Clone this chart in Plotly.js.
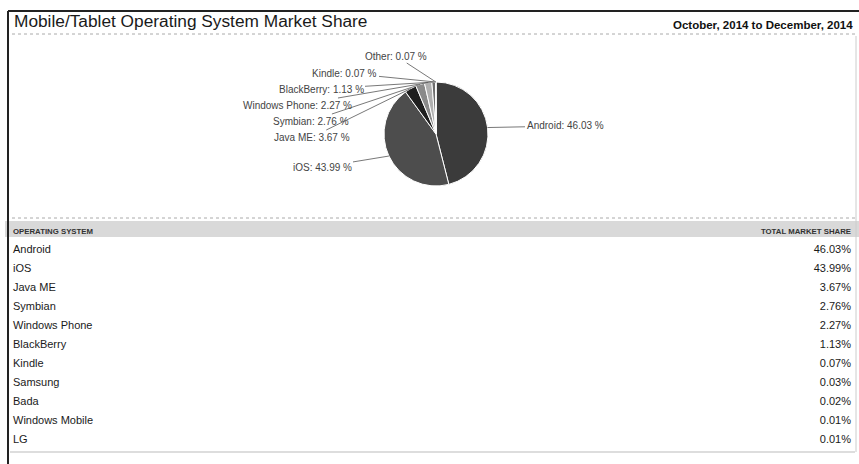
<!DOCTYPE html>
<html>
<head>
<meta charset="utf-8">
<script src="https://cdn.plot.ly/plotly-3.0.1.min.js"></script>
<style>html,body{margin:0;padding:0;background:#fff;}#chart{width:859px;height:464px;}</style>
</head>
<body>
<div id="chart"></div>
<script>
// ---- data ----
const pieLabels = ['Android', 'iOS', 'Java ME', 'Symbian', 'Windows Phone', 'BlackBerry', 'Kindle', 'Other'];
const pieValues = [46.03, 43.99, 3.67, 2.76, 2.27, 1.13, 0.07, 0.07];
const tableOS = ['Android', 'iOS', 'Java ME', 'Symbian', 'Windows Phone', 'BlackBerry', 'Kindle', 'Samsung', 'Bada', 'Windows Mobile', 'LG'];
const tableShare = [46.03, 43.99, 3.67, 2.76, 2.27, 1.13, 0.07, 0.03, 0.02, 0.01, 0.01];
const headerLabels = ['OPERATING SYSTEM', 'TOTAL MARKET SHARE'];
const chartTitle = 'Mobile/Tablet Operating System Market Share';
const dateRange = 'October, 2014 to December, 2014';

// ---- layout / style ----
const W = 859, H = 464;
const FONT = 'Liberation Sans, Arial, sans-serif';
const pieColors = ['#3b3b3b', '#4d4d4d', '#1f1f1f', '#8a8a8a', '#b0b0b0', '#6e6e6e', '#c4c4c4', '#9a9a9a'];
const pieCx = 436, pieCy = 134, pieR = 52;
// label centre positions (px) for leader labels
const labelPos = {
  'Android': [565, 126], 'iOS': [322, 167], 'Java ME': [312, 137], 'Symbian': [311, 121],
  'Windows Phone': [297, 105], 'BlackBerry': [321, 89], 'Kindle': [345, 73], 'Other': [396, 56]
};
const px2x = p => p / W, px2y = p => 1 - p / H;

const total = pieValues.reduce((a, b) => a + b, 0);
let cum = 0;
const annotations = [];
pieLabels.forEach((lab, i) => {
  const mid = (cum + pieValues[i] / 2) / total * 2 * Math.PI;
  cum += pieValues[i];
  const hx = pieCx + pieR * Math.sin(mid), hy = pieCy - pieR * Math.cos(mid);
  const [lx, ly] = labelPos[lab];
  annotations.push({
    x: px2x(hx), y: px2y(hy), xref: 'paper', yref: 'paper',
    ax: lx - hx, ay: ly - hy, axref: 'pixel', ayref: 'pixel',
    text: lab + ': ' + pieValues[i].toFixed(2) + ' %',
    showarrow: true, arrowhead: 0, arrowwidth: 0.8, arrowcolor: '#555',
    font: {family: FONT, size: 10, color: '#444'}
  });
});
annotations.push({
  x: px2x(12), y: px2y(21), xref: 'paper', yref: 'paper', xanchor: 'left', yanchor: 'middle',
  text: chartTitle, showarrow: false, font: {family: FONT, size: 17.3, color: '#1a1a1a'}
});
annotations.push({
  x: px2x(855), y: px2y(25), xref: 'paper', yref: 'paper', xanchor: 'right', yanchor: 'middle',
  text: dateRange, showarrow: false, font: {family: FONT, size: 11.5, color: '#111', weight: 'bold'}
});

const shapes = [
  {type: 'line', xref: 'paper', yref: 'paper', x0: px2x(8), x1: 1, y0: px2y(11), y1: px2y(11), line: {color: '#222', width: 2}},
  {type: 'line', xref: 'paper', yref: 'paper', x0: px2x(8), x1: px2x(8), y0: px2y(11), y1: 0, line: {color: '#222', width: 2}},
  {type: 'line', xref: 'paper', yref: 'paper', x0: px2x(12), x1: px2x(855), y0: px2y(34), y1: px2y(34), line: {color: '#aaa', width: 1, dash: 'dot'}},
  {type: 'line', xref: 'paper', yref: 'paper', x0: px2x(856), x1: px2x(856), y0: px2y(36), y1: px2y(452), line: {color: '#ccc', width: 1}},
  {type: 'line', xref: 'paper', yref: 'paper', x0: px2x(12), x1: px2x(855), y0: px2y(218), y1: px2y(218), line: {color: '#aaa', width: 1, dash: 'dot'}},
  {type: 'line', xref: 'paper', yref: 'paper', x0: px2x(10), x1: px2x(855), y0: px2y(452), y1: px2y(452), line: {color: '#bbb', width: 1}}
];

const pie = {
  type: 'pie', labels: pieLabels, values: pieValues, sort: false, direction: 'clockwise', rotation: 0,
  textinfo: 'none', hoverinfo: 'label+percent',
  marker: {colors: pieColors, line: {color: '#fff', width: 1}},
  domain: {x: [px2x(pieCx - pieR), px2x(pieCx + pieR)], y: [px2y(pieCy + pieR), px2y(pieCy - pieR)]},
  showlegend: false
};

const table = {
  type: 'table',
  domain: {x: [px2x(5), 1], y: [px2y(451), px2y(220.5)]},
  columnwidth: [700, 154],
  header: {
    values: headerLabels, align: ['left', 'right'], height: 16,
    fill: {color: '#d9d9d9'}, line: {color: '#d9d9d9', width: 0},
    font: {family: FONT, size: 7.8, color: '#333', weight: 'bold'}
  },
  cells: {
    values: [tableOS, tableShare.map(v => v.toFixed(2) + '%')], align: ['left', 'right'], height: 19,
    fill: {color: '#fff'}, line: {color: '#fff', width: 0},
    font: {family: FONT, size: 11, color: '#1a1a1a'}
  }
};

const layout = {
  width: W, height: H, margin: {l: 0, r: 0, t: 0, b: 0},
  paper_bgcolor: '#fff', plot_bgcolor: '#fff', showlegend: false,
  annotations: annotations, shapes: shapes
};
Plotly.newPlot('chart', [pie, table], layout, {displayModeBar: false, staticPlot: true});
</script>
</body>
</html>
